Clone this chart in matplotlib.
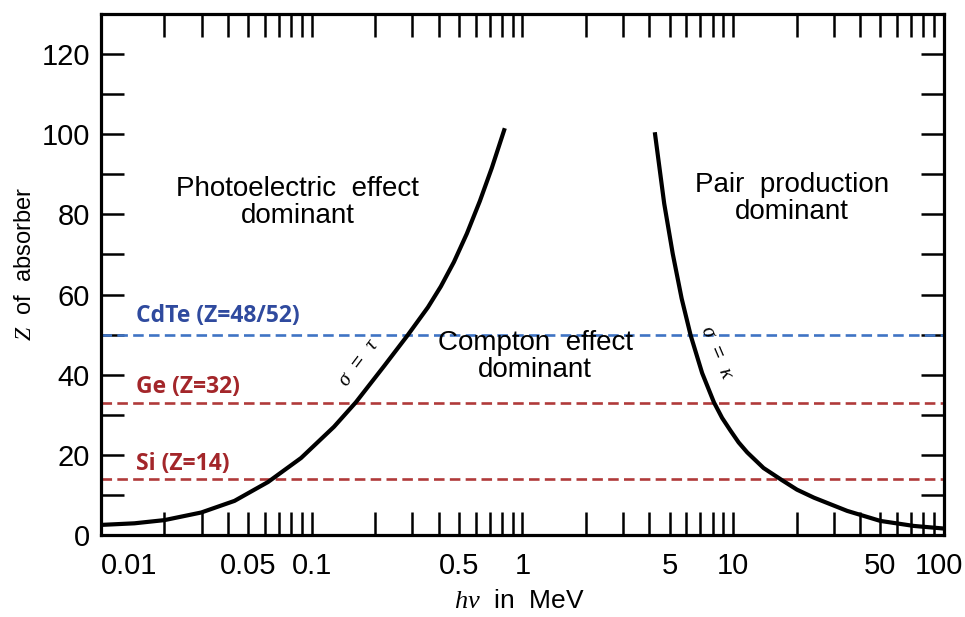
import matplotlib
matplotlib.use("Agg")
import matplotlib.pyplot as plt
from matplotlib.ticker import FixedLocator, FixedFormatter, NullLocator
from matplotlib.transforms import ScaledTranslation

plt.rcParams['font.family'] = ['Liberation Sans', 'DejaVu Sans']
plt.rcParams['mathtext.fontset'] = 'custom'
plt.rcParams['mathtext.rm'] = 'Liberation Sans'
plt.rcParams['mathtext.it'] = 'Liberation Serif:italic'

# --- data ---
# photoelectric = Compton boundary (sigma = tau)
left_E = [0.01, 0.0144, 0.020, 0.0299, 0.0430, 0.0620, 0.0890, 0.1276, 0.162, 0.221,
          0.285, 0.356, 0.410, 0.473, 0.545, 0.628, 0.716, 0.825]
left_Z = [2.5, 2.9, 3.7, 5.6, 8.5, 13.2, 19.2, 27.0, 33.1, 42.2,
          49.8, 56.8, 62.0, 68.1, 75.2, 83.3, 91.6, 101.5]
# Compton = pair production boundary (sigma = kappa)
right_E = [4.25, 4.71, 5.17, 5.70, 6.29, 7.13, 8.11, 8.87, 9.73, 10.62, 11.67, 13.95,
           16.8, 20.1, 24.2, 34.8, 50.0, 72.0, 100.0]
right_Z = [100.5, 82.7, 70.2, 59.0, 49.8, 40.4, 33.1, 29.2, 26.0, 23.1, 20.6, 16.7,
           13.9, 11.3, 9.3, 6.0, 3.5, 2.25, 1.6]

detectors = ['CdTe (Z=48/52)', 'Ge (Z=32)', 'Si (Z=14)']
detector_Z = [50, 33, 14]
line_colors = ['#3f74c4', '#b03a3a', '#b03a3a']
text_colors = ['#2f4a9e', '#a3262a', '#a3262a']

xtick_vals = [m * 10.0 ** k for k in range(-2, 2) for m in range(1, 10)] + [100.0]
xtick_labels_shown = {0.01: '0.01', 0.05: '0.05', 0.1: '0.1', 0.5: '0.5', 1.0: '1',
                      5.0: '5', 10.0: '10', 50.0: '50', 100.0: '100'}
ytick_major = [0, 20, 40, 60, 80, 100, 120]
ytick_all = [0, 10, 20, 30, 40, 50, 60, 70, 80, 90, 100, 110, 120]

fig = plt.figure(figsize=(9.65, 6.17), dpi=100)
ax = fig.add_axes([0.1047, 0.1330, 0.978 - 0.1047, 0.9773 - 0.1330])
ax.set_xscale('log')
ax.set_xlim(0.01, 100)
ax.set_ylim(0, 130)

# detector dashed lines
for z, c in zip(detector_Z, line_colors):
    ax.axhline(z, color=c, lw=1.9, ls=(0, (4, 2)), zorder=2)

ax.plot(left_E, left_Z, color='black', lw=3.0, solid_joinstyle='round',
        solid_capstyle='butt', zorder=3)
ax.plot(right_E, right_Z, color='black', lw=3.0, solid_joinstyle='round',
        solid_capstyle='butt', zorder=3)

# detector labels
label_Z = [54.6, 37.0, 17.8]
for name, zl, tc in zip(detectors, label_Z, text_colors):
    ax.text(0.0147, zl, name, color=tc, fontsize=16.5, fontweight='bold',
            family=['Open Sans', 'DejaVu Sans'], ha='left', va='center', zorder=4)

# region labels
ax.text(0.086, 83, 'Photoelectric  effect\ndominant', ha='center', va='center',
        fontsize=20, linespacing=1.05, zorder=4)
ax.text(19.0, 84.0, 'Pair  production\ndominant', ha='center', va='center',
        fontsize=20, linespacing=1.05, zorder=4)
ax.text(1.15, 44.5, 'Compton  effect\ndominant', ha='center', va='center',
        fontsize=20, linespacing=1.05, zorder=4)

# boundary labels
ax.text(0.168, 43.0, r'$\sigma$  =  $\tau$', rotation=53, ha='center', va='center',
        fontsize=15, zorder=4)
ax.text(8.45, 45.5, r'$\sigma$  =  $\kappa$', rotation=-67, ha='center', va='center',
        fontsize=15, zorder=4)

# ticks
ax.xaxis.set_major_locator(FixedLocator(xtick_vals))
ax.xaxis.set_major_formatter(FixedFormatter([xtick_labels_shown.get(round(v, 4), '') for v in xtick_vals]))
ax.xaxis.set_minor_locator(NullLocator())
ax.yaxis.set_major_locator(FixedLocator(ytick_all))
ax.yaxis.set_major_formatter(FixedFormatter([str(v) if v in ytick_major else '' for v in ytick_all]))
ax.yaxis.set_minor_locator(NullLocator())
ax.tick_params(axis='both', which='both', direction='in', length=16.5, width=1.8,
               top=True, right=True, labelsize=21, color='black')
ax.tick_params(axis='x', pad=12)
ax.tick_params(axis='y', pad=8)
xlabs = ax.get_xticklabels()
xlabs[0].set_ha('left')
xlabs[-1].set_transform(xlabs[-1].get_transform() +
                        ScaledTranslation(-5 / 100, 0, fig.dpi_scale_trans))

for s in ax.spines.values():
    s.set_linewidth(2.3)

ax.set_xlabel(r'$h\nu$  in  MeV', fontsize=19)
ax.set_ylabel(r'$Z$  of  absorber', fontsize=17)
ax.xaxis.set_label_coords(0.497, -0.104)
ax.yaxis.set_label_coords(-0.077, 0.52)

fig.savefig('out.png', dpi=100)
